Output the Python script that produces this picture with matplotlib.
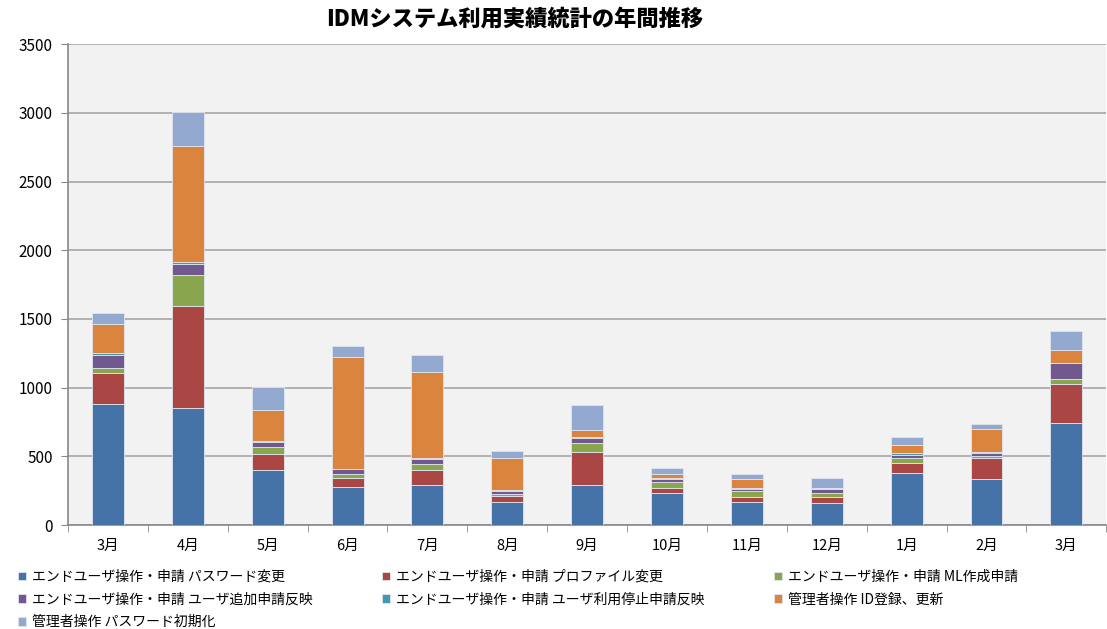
import matplotlib.pyplot as plt
import numpy as np

plt.rcParams['font.family'] = ['Noto Sans CJK JP', 'DejaVu Sans']

months = ["3月", "4月", "5月", "6月", "7月", "8月", "9月", "10月", "11月", "12月", "1月", "2月", "3月"]

series_names = [
    "エンドユーザ操作・申請 パスワード変更",
    "エンドユーザ操作・申請 プロファイル変更",
    "エンドユーザ操作・申請 ML作成申請",
    "エンドユーザ操作・申請 ユーザ追加申請反映",
    "エンドユーザ操作・申請 ユーザ利用停止申請反映",
    "管理者操作 ID登録、更新",
    "管理者操作 パスワード初期化",
]

pw_change = [880, 855, 398, 277, 289, 167, 296, 231, 167, 158, 381, 333, 743]
profile_change = [230, 742, 121, 63, 114, 44, 238, 43, 37, 46, 73, 153, 281]
ml_request = [37, 223, 51, 36, 43, 15, 65, 37, 43, 27, 36, 21, 41]
user_add = [94, 80, 36, 32, 32, 21, 37, 24, 17, 29, 22, 19, 112]
user_stop = [15, 15, 3, 3, 10, 8, 3, 12, 10, 4, 10, 8, 3]
admin_id = [208, 844, 230, 810, 626, 235, 55, 22, 61, 5, 60, 165, 92]
admin_pw = [80, 245, 163, 82, 124, 51, 180, 44, 41, 78, 61, 36, 140]

colors = ["#4572A7", "#AA4643", "#89A54E", "#71588F", "#4198AF", "#DB843D", "#93A9CF"]

data = [pw_change, profile_change, ml_request, user_add, user_stop, admin_id, admin_pw]

fig = plt.figure(figsize=(11.07, 6.29), dpi=100)
ax = fig.add_axes([0.0614, 0.165, 0.938, 0.765])
ax.set_facecolor("#F2F2F2")

x = np.arange(len(months))
bottom = np.zeros(len(months))
for vals, name, c in zip(data, series_names, colors):
    ax.bar(x, vals, 0.4, bottom=bottom, color=c, label=name,
           edgecolor="#dfe6f0", linewidth=0.6, zorder=3)
    bottom += np.array(vals)

ax.set_xlim(-0.5, len(months) - 0.5)
ax.set_ylim(0, 3500)
ax.set_yticks(range(0, 3501, 500))
ax.yaxis.grid(True, color="#A6A6A6", linewidth=1.2, zorder=0)
ax.tick_params(axis='y', length=5, color="#888888", labelsize=11, pad=6)

ax.set_xticks(x)
ax.set_xticklabels(months, fontsize=10.5)
ax.set_xticks(np.arange(-0.5, len(months)), minor=True)
ax.tick_params(axis='x', which='major', length=0, pad=10)
ax.tick_params(axis='x', which='minor', length=5, color="#888888")

for s in ["top", "right"]:
    ax.spines[s].set_visible(False)
for s in ["left", "bottom"]:
    ax.spines[s].set_color("#888888")
    ax.spines[s].set_linewidth(1.2)

fig.suptitle("IDMシステム利用実績統計の年間推移", x=0.465, y=0.988,
             fontsize=16, fontweight="black")

# legend filled row by row like the original
handles, labels = ax.get_legend_handles_labels()
order = [0, 3, 6, 1, 4, 2, 5]
fig.legend([handles[i] for i in order], [labels[i] for i in order],
           loc="lower left", bbox_to_anchor=(0.005, -0.02), ncol=3,
           frameon=False, fontsize=10, handlelength=0.6, handleheight=0.6,
           handletextpad=0.4, columnspacing=5.0, labelspacing=0.62)

plt.savefig("out.png", dpi=100)
